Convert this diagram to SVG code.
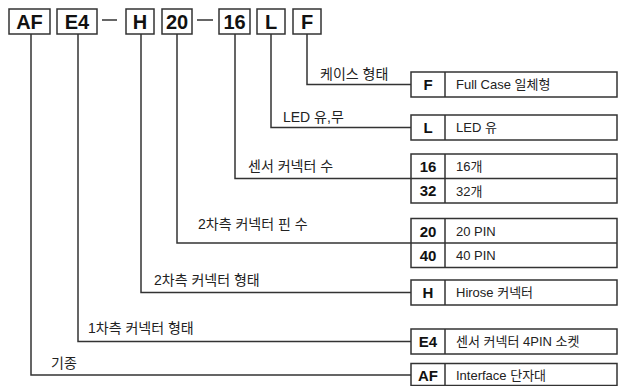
<svg xmlns="http://www.w3.org/2000/svg" width="620" height="386" viewBox="0 0 620 386">
<style>
.bx{fill:#fff;stroke:#333;stroke-width:1.5}
.cn{fill:none;stroke:#333;stroke-width:1.5}
.top{font-family:"Liberation Sans","Noto Sans CJK KR",sans-serif;font-weight:bold;font-size:20px;fill:#111;text-anchor:middle}
.code{font-family:"Liberation Sans","Noto Sans CJK KR",sans-serif;font-weight:bold;font-size:15px;fill:#111;text-anchor:middle}
.desc{font-family:"Liberation Sans","Noto Sans CJK KR",sans-serif;font-size:13px;fill:#222}
.lbl{font-family:"Liberation Sans","Noto Sans CJK KR",sans-serif;font-size:14px;fill:#222}
</style>
<rect width="620" height="386" fill="#fff"/>
<g id="connectors">
<polyline class="cn" points="307,34 307,84.5 411,84.5"/>
<polyline class="cn" points="271,34 271,127.5 411,127.5"/>
<polyline class="cn" points="235,34 235,178.5 411,178.5"/>
<polyline class="cn" points="177,34 177,243 411,243"/>
<polyline class="cn" points="141,34 141,292.5 411,292.5"/>
<polyline class="cn" points="78,34 78,341.5 411,341.5"/>
<polyline class="cn" points="31,34 31,375 411,375"/>
<line class="cn" x1="102" y1="20" x2="117" y2="20" stroke-width="2"/>
<line class="cn" x1="197" y1="20" x2="213" y2="20" stroke-width="2"/>
</g>
<g id="top-AF"><rect class="bx" x="9" y="9" width="41" height="25"/><text class="top" x="29.5" y="28.5">AF</text></g>
<g id="top-E4"><rect class="bx" x="57" y="9" width="40" height="25"/><text class="top" x="77" y="28.5">E4</text></g>
<g id="top-H"><rect class="bx" x="126" y="9" width="28" height="25"/><text class="top" x="140" y="28.5">H</text></g>
<g id="top-20"><rect class="bx" x="162" y="9" width="30" height="25"/><text class="top" x="177" y="28.5">20</text></g>
<g id="top-16"><rect class="bx" x="219" y="9" width="31" height="25"/><text class="top" x="234.5" y="28.5">16</text></g>
<g id="top-L"><rect class="bx" x="257" y="9" width="28" height="25"/><text class="top" x="271" y="28.5">L</text></g>
<g id="top-F"><rect class="bx" x="293" y="9" width="28" height="25"/><text class="top" x="307" y="28.5">F</text></g>

<g id="lbl-case"><text class="lbl" x="320" y="79">케이스 형태</text></g>
<g id="lbl-led"><text class="lbl" x="283" y="121.5">LED 유,무</text></g>
<g id="lbl-sensor"><text class="lbl" x="248" y="171">센서 커넥터 수</text></g>
<g id="lbl-pin"><text class="lbl" x="198" y="229">2차측 커넥터 핀 수</text></g>
<g id="lbl-2type"><text class="lbl" x="154" y="285">2차측 커넥터 형태</text></g>
<g id="lbl-1type"><text class="lbl" x="88" y="333">1차측 커넥터 형태</text></g>
<g id="lbl-kind"><text class="lbl" x="51" y="368">기종</text></g>

<g id="row-F"><rect class="bx" x="411" y="72" width="206" height="25"/><line class="cn" x1="445" y1="72" x2="445" y2="97"/><text class="code" x="428" y="90">F</text><text class="desc" x="456" y="89">Full Case 일체형</text></g>
<g id="row-L"><rect class="bx" x="411" y="115" width="206" height="25"/><line class="cn" x1="445" y1="115" x2="445" y2="140"/><text class="code" x="428" y="133">L</text><text class="desc" x="456" y="132">LED 유</text></g>
<g id="row-16"><rect class="bx" x="411" y="154" width="206" height="49"/><line class="cn" x1="411" y1="178.5" x2="617" y2="178.5"/><line class="cn" x1="445" y1="154" x2="445" y2="203"/><text class="code" x="428" y="172">16</text><text class="desc" x="456" y="171">16개</text><text class="code" x="428" y="196">32</text><text class="desc" x="456" y="195.5">32개</text></g>
<g id="row-20"><rect class="bx" x="411" y="218.5" width="206" height="49"/><line class="cn" x1="411" y1="243" x2="617" y2="243"/><line class="cn" x1="445" y1="218.5" x2="445" y2="267.5"/><text class="code" x="428" y="236.5">20</text><text class="desc" x="456" y="235.5">20 PIN</text><text class="code" x="428" y="261">40</text><text class="desc" x="456" y="260">40 PIN</text></g>
<g id="row-H"><rect class="bx" x="411" y="280" width="206" height="25"/><line class="cn" x1="445" y1="280" x2="445" y2="305"/><text class="code" x="428" y="298">H</text><text class="desc" x="456" y="297">Hirose 커넥터</text></g>
<g id="row-E4"><rect class="bx" x="411" y="329" width="206" height="25"/><line class="cn" x1="445" y1="329" x2="445" y2="354"/><text class="code" x="428" y="347">E4</text><text class="desc" x="456" y="346">센서 커넥터 4PIN 소켓</text></g>
<g id="row-AF"><rect class="bx" x="411" y="363.5" width="206" height="22"/><line class="cn" x1="445" y1="363.5" x2="445" y2="385.5"/><text class="code" x="428" y="380.5">AF</text><text class="desc" x="456" y="380">Interface 단자대</text></g>
</svg>
